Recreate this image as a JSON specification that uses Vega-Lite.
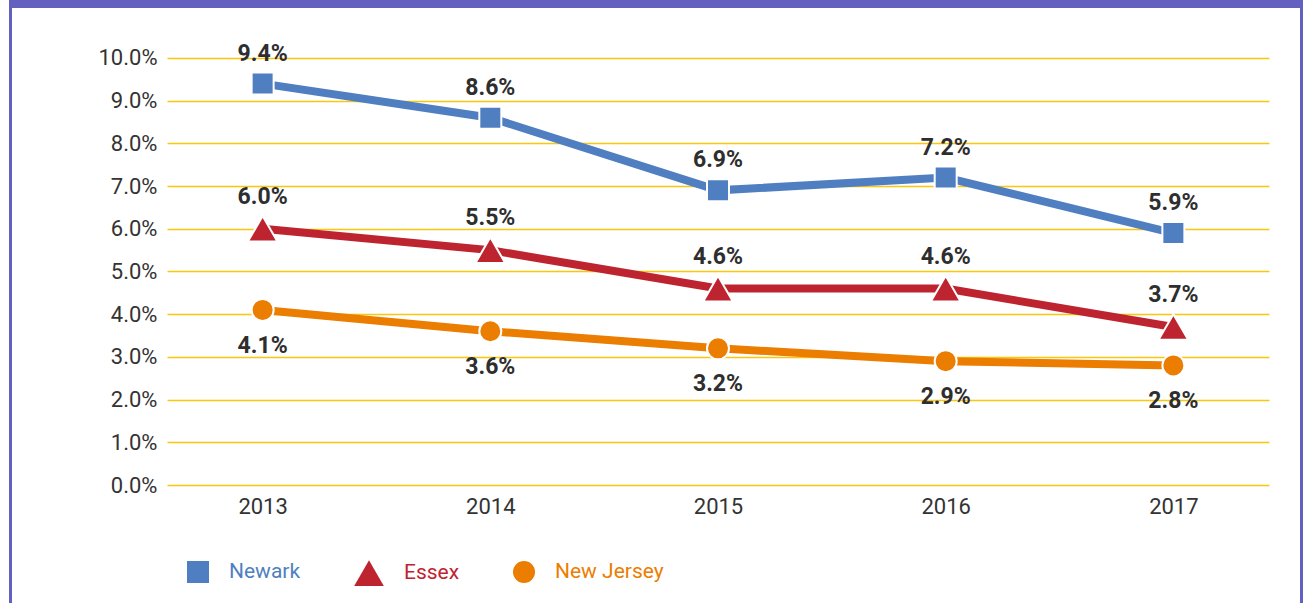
{
  "$schema": "https://vega.github.io/schema/vega-lite/v6.json",
  "background": "white",
  "padding": {"left": 9, "top": 0, "right": 0, "bottom": 0},
  "config": {
    "view": {"stroke": null},
    "font": "Roboto",
    "concat": {"spacing": 0}
  },
  "spacing": 0,
  "align": "none",
  "resolve": {"scale": {"color": "independent", "shape": "independent", "size": "independent", "stroke": "independent"}},
  "vconcat": [
    {
      "width": 1294,
      "height": 8,
      "view": {"fill": "#6360C0", "stroke": null},
      "data": {"values": [{}]},
      "mark": {"type": "rect", "color": "#6360C0"},
      "encoding": {}
    },
    {
      "spacing": 31,
      "align": "none",
      "resolve": {"scale": {"color": "independent", "shape": "independent", "size": "independent", "stroke": "independent"}},
      "hconcat": [
        {
          "width": 3,
          "height": 595,
          "view": {"fill": "#6360C0", "stroke": null},
          "data": {"values": [{}]},
          "mark": {"type": "rect", "color": "#6360C0"},
          "encoding": {}
        },
        {
          "width": 1102,
          "height": 477,
          "data": {
            "values": [
              {"year": "2013", "series": "Newark", "value": 0.094},
              {"year": "2014", "series": "Newark", "value": 0.086},
              {"year": "2015", "series": "Newark", "value": 0.069},
              {"year": "2016", "series": "Newark", "value": 0.072},
              {"year": "2017", "series": "Newark", "value": 0.059},
              {"year": "2013", "series": "Essex", "value": 0.060},
              {"year": "2014", "series": "Essex", "value": 0.055},
              {"year": "2015", "series": "Essex", "value": 0.046},
              {"year": "2016", "series": "Essex", "value": 0.046},
              {"year": "2017", "series": "Essex", "value": 0.037},
              {"year": "2013", "series": "New Jersey", "value": 0.041},
              {"year": "2014", "series": "New Jersey", "value": 0.036},
              {"year": "2015", "series": "New Jersey", "value": 0.032},
              {"year": "2016", "series": "New Jersey", "value": 0.029},
              {"year": "2017", "series": "New Jersey", "value": 0.028}
            ]
          },
          "encoding": {
            "x": {
              "field": "year",
              "type": "ordinal",
              "scale": {"type": "point", "padding": 0.42},
              "axis": {
                "title": null,
                "labelAngle": 0,
                "domain": false,
                "ticks": false,
                "grid": false,
                "labelFontSize": 22,
                "labelColor": "#333333",
                "labelPadding": 11,
                "labelFont": "Roboto"
              }
            },
            "y": {
              "field": "value",
              "type": "quantitative",
              "scale": {"domain": [0, 0.1117], "nice": false, "zero": true},
              "axis": {
                "title": null,
                "values": [0, 0.01, 0.02, 0.03, 0.04, 0.05, 0.06, 0.07, 0.08, 0.09, 0.1],
                "format": ".1%",
                "domain": false,
                "ticks": false,
                "grid": true,
                "gridColor": "#F8C70E",
                "gridWidth": 1.5,
                "labelFontSize": 22,
                "labelColor": "#333333",
                "labelPadding": 10,
                "labelFont": "Roboto",
                "minExtent": 124,
                "maxExtent": 124
              }
            }
          },
          "layer": [
            {
              "mark": {"type": "line", "strokeWidth": 8},
              "encoding": {
                "stroke": {
                  "field": "series",
                  "type": "nominal",
                  "sort": ["Newark", "Essex", "New Jersey"],
                  "scale": {"range": ["#4F7FC1", "#BE2430", "#EB7D00"]},
                  "legend": null
                }
              }
            },
            {
              "mark": {"type": "point", "filled": true, "opacity": 1, "stroke": "white", "strokeWidth": 2},
              "encoding": {
                "color": {
                  "field": "series",
                  "type": "nominal",
                  "scale": {"domain": ["Newark", "Essex", "New Jersey"], "range": ["#4F7FC1", "#BE2430", "#EB7D00"]},
                  "legend": {
                    "orient": "none",
                    "legendX": 20,
                    "legendY": 550,
                    "padding": 0,
                    "direction": "horizontal",
                    "title": null,
                    "labelFontSize": 21,
                    "labelFont": "Roboto",
                    "labelOffset": 20,
                    "columnPadding": 53,
                    "symbolStrokeWidth": 0,
                    "symbolOpacity": 1,
                    "labelColor": {"expr": "datum.value === 'Newark' ? '#4F7FC1' : datum.value === 'Essex' ? '#BE2430' : '#EB7D00'"}
                  }
                },
                "shape": {
                  "field": "series",
                  "type": "nominal",
                  "scale": {"domain": ["Newark", "Essex", "New Jersey"], "range": ["square", "triangle-up", "circle"]}
                },
                "size": {
                  "field": "series",
                  "type": "nominal",
                  "scale": {"type": "ordinal", "domain": ["Newark", "Essex", "New Jersey"], "range": [484, 880, 484]}
                }
              }
            },
            {
              "transform": [{"filter": "datum.series === 'Newark'"}],
              "mark": {"type": "text", "dy": -30, "fontSize": 23, "fontWeight": "bold", "color": "#2E2E2E", "font": "Roboto"},
              "encoding": {"text": {"field": "value", "type": "quantitative", "format": ".1%"}}
            },
            {
              "transform": [{"filter": "datum.series === 'Essex'"}],
              "mark": {"type": "text", "dy": -32, "fontSize": 23, "fontWeight": "bold", "color": "#2E2E2E", "font": "Roboto"},
              "encoding": {"text": {"field": "value", "type": "quantitative", "format": ".1%"}}
            },
            {
              "transform": [{"filter": "datum.series === 'New Jersey'"}],
              "mark": {"type": "text", "dy": 36, "fontSize": 23, "fontWeight": "bold", "color": "#2E2E2E", "font": "Roboto"},
              "encoding": {"text": {"field": "value", "type": "quantitative", "format": ".1%"}}
            }
          ]
        },
        {
          "width": 3,
          "height": 595,
          "view": {"fill": "#6360C0", "stroke": null},
          "data": {"values": [{}]},
          "mark": {"type": "rect", "color": "#6360C0"},
          "encoding": {}
        }
      ]
    }
  ]
}
